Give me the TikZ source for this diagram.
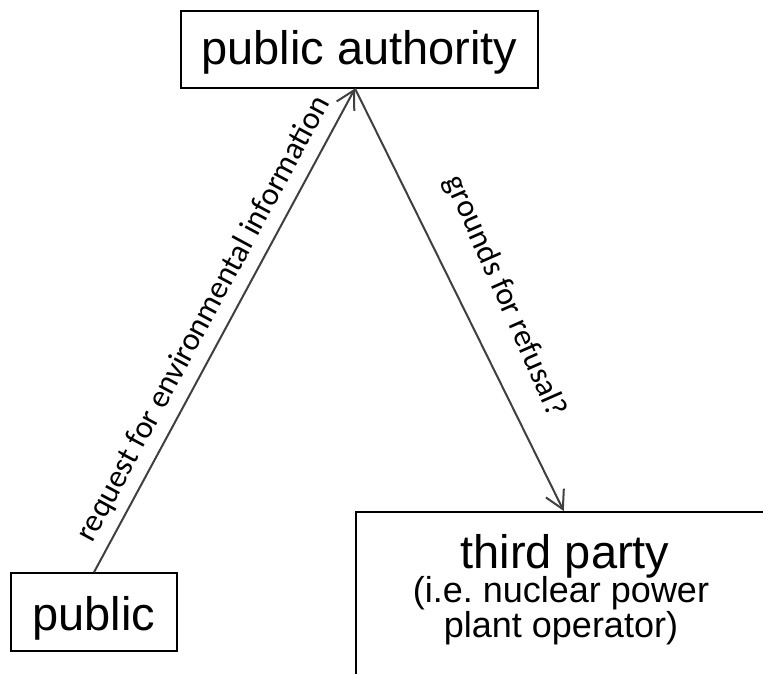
\documentclass[tikz,border=0pt]{standalone}
\usepackage{fontspec}
\setmainfont{Liberation Sans}
\newfontfamily\labelfont{Carlito}
\usetikzlibrary{arrows.meta}
\definecolor{arrowgray}{HTML}{404040}
\frenchspacing
\begin{document}
\begin{tikzpicture}[x=1bp,y=-1bp,
  box/.style={draw=black, line width=1.5bp, inner sep=0pt, fill=white},
  big/.style={font=\fontsize{47bp}{56bp}\selectfont},
  sub/.style={font=\fontsize{36bp}{43bp}\selectfont, inner sep=0pt, anchor=base},
  conn/.style={draw=arrowgray, line width=2bp, -{Straight Barb[length=18bp,width=20bp]}},
  lbl/.style={font=\labelfont\fontsize{32bp}{38bp}\selectfont, inner sep=0pt, text=black}]
\clip (0,0) rectangle (763,674);
\fill[white] (0,0) rectangle (763,674);
% nodes
\node[box, big, minimum width=357bp, minimum height=77bp, text height=31bp, text depth=0bp] (pa) at (359.5,49.5) {public authority};
\node[box, big, minimum width=166bp, minimum height=78bp, text height=37bp, text depth=0bp] (pub) at (94,612) {public};
\node[box, minimum width=416bp, minimum height=200bp, anchor=north west] (tp) at (355,511) {};
\node[big, anchor=base, inner sep=0pt] (tp1) at (565,568) {third party};
\node[sub] (tp2) at (561,602) {(i.e. nuclear power};
\node[sub] (tp3) at (561,637) {plant operator)};
\coordinate (apex) at (355,88.5);
% connectors
\draw[conn] (pub.north) -- node[lbl, midway, sloped, anchor=base, yshift=15bp] (l1) {request for environmental information} (apex);
\draw[conn] (apex) -- node[lbl, pos=0.533, sloped, rotate=-2.5, anchor=base, yshift=34bp] (l2) {grounds for refusal?} (tp.north);
\end{tikzpicture}
\end{document}
